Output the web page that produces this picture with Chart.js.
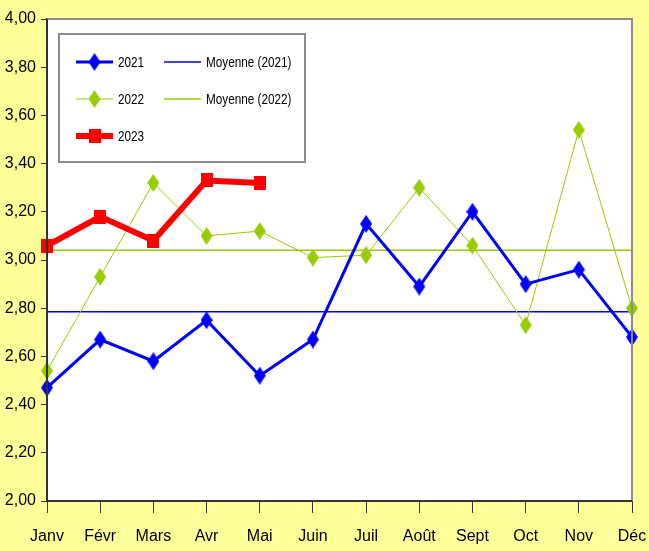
<!DOCTYPE html>
<html lang="fr">
<head>
<meta charset="utf-8">
<title>2021 - 2023</title>
<script src="https://cdn.jsdelivr.net/npm/chart.js@4/dist/chart.umd.min.js"></script>
<style>
    html, body { margin: 0; padding: 0; background: #ffff99; }
    canvas { display: block; }
</style>
</head>
<body>
<canvas id="chart" width="649" height="551"></canvas>
<script>
const MONTHS = ['Janv', 'Févr', 'Mars', 'Avr', 'Mai', 'Juin', 'Juil', 'Août', 'Sept', 'Oct', 'Nov', 'Déc'];

const VALUES_2021 = [2.47, 2.67, 2.58, 2.75, 2.52, 2.67, 3.15, 2.89, 3.20, 2.90, 2.96, 2.68];
const VALUES_2022 = [2.54, 2.93, 3.32, 3.10, 3.12, 3.01, 3.02, 3.30, 3.06, 2.73, 3.54, 2.80];
const VALUES_2023 = [3.06, 3.18, 3.08, 3.33, 3.32];

const MEAN_2021 = 2.785;
const MEAN_2022 = 3.04;

const Y_MIN = 2.0;
const Y_MAX = 4.0;
const Y_STEP = 0.2;

const FONT = "'Liberation Sans', Arial, sans-serif";

const BLUE = '#0000ff';
const GREEN = '#99cc00';
const RED = '#ff0000';

function makeMarker(color, w, h, diamond) {
    const c = document.createElement('canvas');
    c.width = w;
    c.height = h;
    const ctx = c.getContext('2d');
    ctx.fillStyle = color;
    if (diamond) {
        ctx.beginPath();
        ctx.moveTo(w / 2, 0);
        ctx.lineTo(w, h / 2);
        ctx.lineTo(w / 2, h);
        ctx.lineTo(0, h / 2);
        ctx.closePath();
        ctx.fill();
    } else {
        ctx.fillRect(0, 0, w, h);
    }
    return c;
}

const markerBlue = makeMarker(BLUE, 12, 18, true);
const markerGreen = makeMarker(GREEN, 12, 18, true);
const markerRed = makeMarker(RED, 12, 14, false);

// white plot area + grey frame, like the spreadsheet chart
const plotFrame = {
    id: 'plotFrame',
    beforeDatasetsDraw(chart) {
        const { ctx, chartArea: a } = chart;
        ctx.save();
        ctx.fillStyle = '#ffffff';
        ctx.fillRect(a.left, a.top, a.right - a.left, a.bottom - a.top);
        ctx.restore();
    },
    afterDraw(chart) {
        const { ctx, chartArea: a } = chart;
        ctx.save();
        ctx.strokeStyle = '#8c8c8c';
        ctx.lineWidth = 2;
        ctx.beginPath();
        ctx.moveTo(a.left, a.top);
        ctx.lineTo(a.right, a.top);
        ctx.lineTo(a.right, a.bottom);
        ctx.stroke();
        ctx.strokeStyle = '#333333';
        ctx.beginPath();
        ctx.moveTo(a.left, a.top);
        ctx.lineTo(a.left, a.bottom);
        ctx.lineTo(a.right, a.bottom);
        ctx.stroke();
        ctx.restore();
    }
};

// legend box inside the plot, two columns
const boxLegend = {
    id: 'boxLegend',
    afterDraw(chart) {
        const { ctx } = chart;
        const box = { x: 59, y: 34, w: 246, h: 128 };
        const slots = [
            { x: 76, y: 62 },
            { x: 164, y: 62 },
            { x: 76, y: 99 },
            { x: 164, y: 99 },
            { x: 76, y: 136 },
        ];
        const order = ['2021', 'Moyenne (2021)', '2022', 'Moyenne (2022)', '2023'];

        ctx.save();
        ctx.fillStyle = '#ffffff';
        ctx.fillRect(box.x, box.y, box.w, box.h);
        ctx.strokeStyle = '#8c8c8c';
        ctx.lineWidth = 2;
        ctx.strokeRect(box.x, box.y, box.w, box.h);

        order.forEach((label, i) => {
            const ds = chart.data.datasets.find(d => d.label === label);
            const s = slots[i];
            ctx.strokeStyle = ds.borderColor;
            ctx.lineWidth = ds.borderWidth;
            ctx.beginPath();
            ctx.moveTo(s.x, s.y);
            ctx.lineTo(s.x + 37, s.y);
            ctx.stroke();
            if (ds.pointStyle && ds.pointRadius > 0) {
                const m = ds.pointStyle;
                ctx.drawImage(m, s.x + 18.5 - m.width / 2, s.y - m.height / 2);
            }
            // narrow look: squeeze the text horizontally
            ctx.save();
            ctx.translate(s.x + 42, s.y + 1);
            ctx.scale(0.81, 1);
            ctx.font = '14.5px ' + FONT;
            ctx.textBaseline = 'middle';
            ctx.fillStyle = '#000000';
            ctx.fillText(label, 0, 0);
            ctx.restore();
        });
        ctx.restore();
    }
};

new Chart(document.getElementById('chart'), {
    type: 'line',
    data: {
        labels: MONTHS,
        datasets: [
            {
                label: '2023',
                data: VALUES_2023,
                borderColor: RED,
                backgroundColor: RED,
                borderWidth: 6,
                pointStyle: markerRed,
                pointRadius: 6,
                tension: 0,
                order: 0,
            },
            {
                label: '2021',
                data: VALUES_2021,
                borderColor: BLUE,
                backgroundColor: BLUE,
                borderWidth: 3,
                pointStyle: markerBlue,
                pointRadius: 6,
                tension: 0,
                order: 1,
            },
            {
                label: '2022',
                data: VALUES_2022,
                borderColor: GREEN,
                backgroundColor: GREEN,
                borderWidth: 1,
                pointStyle: markerGreen,
                pointRadius: 6,
                tension: 0,
                order: 2,
            },
            {
                label: 'Moyenne (2021)',
                data: [{ x: MONTHS[0], y: MEAN_2021 }, { x: MONTHS[MONTHS.length - 1], y: MEAN_2021 }],
                borderColor: BLUE,
                borderWidth: 1.5,
                pointRadius: 0,
                order: 3,
            },
            {
                label: 'Moyenne (2022)',
                data: [{ x: MONTHS[0], y: MEAN_2022 }, { x: MONTHS[MONTHS.length - 1], y: MEAN_2022 }],
                borderColor: GREEN,
                borderWidth: 1.5,
                pointRadius: 0,
                order: 4,
            },
        ]
    },
    options: {
        responsive: false,
        animation: false,
        layout: {
            padding: { left: 0, top: 19, right: 17, bottom: 0 }
        },
        plugins: {
            legend: { display: false },
            tooltip: { enabled: false },
        },
        scales: {
            x: {
                offset: false,
                grid: {
                    drawOnChartArea: false,
                    drawTicks: true,
                    tickLength: 12,
                    color: '#333333',
                },
                border: { color: '#333333', width: 2 },
                ticks: {
                    color: '#000000',
                    // tall line box pushes the month names down without widening the side padding
                    font: { family: FONT, size: 16, lineHeight: 2.75 },
                    padding: 2,
                    maxRotation: 0,
                    autoSkip: false,
                },
                afterFit(scale) { scale.height = 50; },
            },
            y: {
                min: Y_MIN,
                max: Y_MAX,
                grid: {
                    drawOnChartArea: false,
                    drawTicks: true,
                    tickLength: 6,
                    color: '#333333',
                },
                border: { color: '#333333', width: 2 },
                ticks: {
                    stepSize: Y_STEP,
                    color: '#000000',
                    font: { family: FONT, size: 16 },
                    padding: 5,
                    callback: v => v.toFixed(2).replace('.', ','),
                },
                afterFit(scale) { scale.width = 47; },
            }
        }
    },
    plugins: [plotFrame, boxLegend]
});
</script>
</body>
</html>
